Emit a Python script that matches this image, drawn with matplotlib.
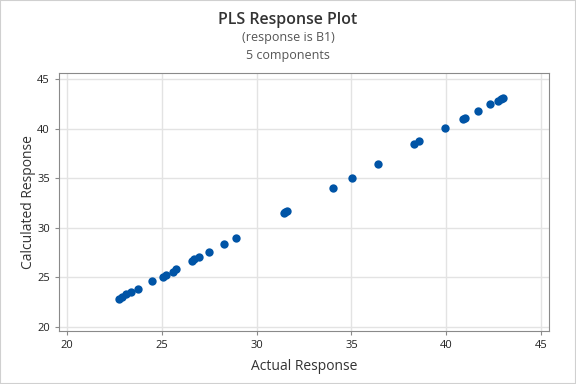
import numpy as np
import matplotlib.pyplot as plt

plt.rcParams['font.family'] = ['Open Sans', 'DejaVu Sans']

actual = [22.75, 22.89, 23.10, 23.37, 23.72, 24.51, 25.04, 25.22, 25.60, 25.75,
          26.59, 26.71, 26.94, 27.47, 28.26, 28.90, 31.43, 31.52, 31.59, 34.05,
          35.05, 36.40, 38.29, 38.57, 39.94, 40.86, 41.00, 41.69, 42.32, 42.74,
          42.88, 43.00]
calculated = [22.79, 23.06, 23.30, 23.50, 23.80, 24.61, 25.07, 25.27, 25.57, 25.81,
              26.62, 26.82, 27.08, 27.52, 28.34, 28.94, 31.46, 31.56, 31.66, 34.05,
              35.05, 36.45, 38.42, 38.72, 40.03, 40.94, 41.04, 41.74, 42.45, 42.81,
              42.95, 43.08]

fig = plt.figure(figsize=(5.76, 3.84), dpi=100)
ax = fig.add_axes([59 / 576, 1 - 331 / 384, 490 / 576, 258 / 384])

ax.scatter(actual, calculated, s=36, color='#0054a6', zorder=3, linewidths=0)

ax.set_xlim(19.58, 45.42)
ax.set_ylim(19.6, 45.6)
ax.set_xticks(np.arange(20, 46, 5))
ax.set_yticks(np.arange(20, 46, 5))
ax.grid(True, color='#e3e3e3', linewidth=1, zorder=0)
for s in ax.spines.values():
    s.set_color('#8a8a8a')
ax.tick_params(labelsize=8, length=3, color='#8a8a8a', labelcolor='#222222')
ax.set_xlabel('Actual Response', fontsize=10, color='#333333', labelpad=6)
ax.set_ylabel('Calculated Response', fontsize=10, color='#333333', labelpad=1)

fig.text(0.5, 1 - 20 / 384, 'PLS Response Plot', ha='center', va='center',
         fontsize=11.5, fontweight='semibold', color='#333333')
fig.text(0.5, 1 - 38 / 384, '(response is B1)', ha='center', va='center',
         fontsize=9, color='#555555')
fig.text(0.5, 1 - 55 / 384, '5 components', ha='center', va='center',
         fontsize=9, color='#555555')

fig.patches.append(plt.Rectangle((0, 0), 1, 1, transform=fig.transFigure,
                                 fill=False, edgecolor='#d0d0d0', linewidth=1.5))

fig.savefig('out.png', dpi=100)
